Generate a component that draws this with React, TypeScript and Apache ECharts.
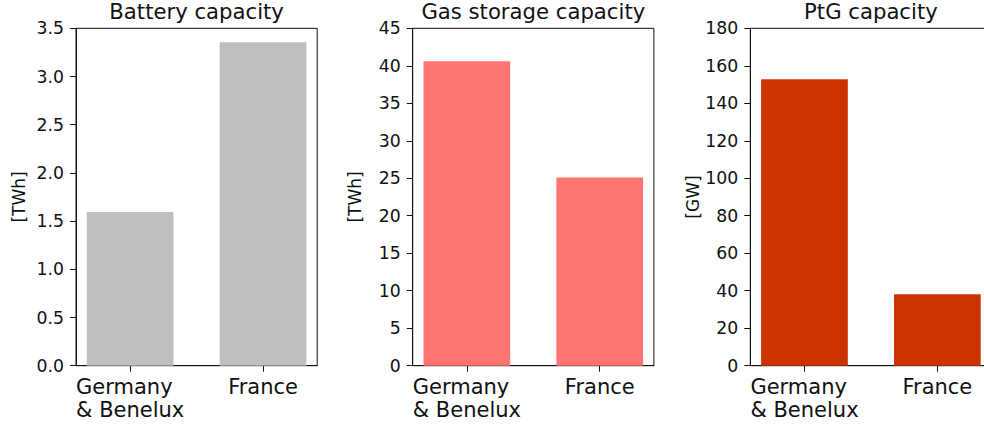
import React, { useEffect, useRef } from "react";
import * as echarts from "echarts";

const categories = ["Germany\n& Benelux", "France"];
const batteryValues = [1.594, 3.355];
const gasValues = [40.6, 25.1];
const ptgValues = [152.8, 38.1];
const panelTitles = ["Battery capacity", "Gas storage capacity", "PtG capacity"];
const yUnits = ["[TWh]", "[TWh]", "[GW]"];
const yMaxes = [3.5, 45, 180];
const yIntervals = [0.5, 5, 20];
const yDecimals = [1, 0, 0];
const barColors = ["#bfbfbf", "#ff7373", "#cc3300"];

const FONT = "DejaVu Sans";
const INK = "#111111";

export default function App() {
  const ref = useRef<HTMLDivElement>(null);
  useEffect(() => {
    if (!ref.current) return;
    const chart = echarts.init(ref.current, undefined, { renderer: "svg" });
    const lefts = [76, 412.7, 750.3];
    const width = 241.2;
    const top = 28.3;
    const height = 337.4;
    const allValues = [batteryValues, gasValues, ptgValues];

    const grids = lefts.map((l) => ({
      left: l,
      top,
      width,
      height,
      show: true,
      borderColor: INK,
      borderWidth: 1,
      containLabel: false,
    }));

    const xAxes = lefts.map((_, i) => ({
      type: "value",
      gridIndex: i,
      min: -0.4075,
      max: 1.4075,
      splitLine: { show: false },
      axisLine: { show: true, onZero: false, lineStyle: { color: INK, width: 1 } },
      axisTick: {
        show: true,
        customValues: [0, 1],
        length: 6,
        lineStyle: { color: INK, width: 1 },
      },
      axisLabel: {
        show: true,
        customValues: [0, 1],
        margin: 10,
        formatter: (v: number) => {
          const c = categories[Math.round(v)] || "";
          return c
            .split("\n")
            .map((s) => "{l|" + s + "}")
            .join("\n");
        },
        rich: {
          l: {
            align: "left",
            fontSize: 21,
            lineHeight: 23,
            fontFamily: FONT,
            color: INK,
          },
        },
      },
    }));

    const yAxes = lefts.map((_, i) => ({
      type: "value",
      gridIndex: i,
      min: 0,
      max: yMaxes[i],
      interval: yIntervals[i],
      splitLine: { show: false },
      axisLine: { show: true, onZero: false, lineStyle: { color: INK, width: 1 } },
      axisTick: { show: true, length: 6, lineStyle: { color: INK, width: 1 } },
      axisLabel: {
        margin: 12,
        fontSize: 17.3,
        fontFamily: FONT,
        color: INK,
        formatter: (v: number) => v.toFixed(yDecimals[i]),
      },
      name: yUnits[i],
      nameLocation: "middle",
      nameGap: 49,
      nameTextStyle: { fontSize: 17, fontFamily: FONT, color: INK },
    }));

    const series = allValues.map((vals, i) => ({
      type: "bar",
      xAxisIndex: i,
      yAxisIndex: i,
      barWidth: 86.7,
      itemStyle: { color: barColors[i] },
      data: vals.map((v, j) => [j, v]),
    }));

    const titles = lefts.map((l, i) => ({
      text: panelTitles[i],
      left: l + width / 2,
      top: 1,
      padding: 0,
      textAlign: "center",
      textStyle: {
        fontSize: 21.2,
        fontWeight: "normal",
        fontFamily: FONT,
        color: INK,
      },
    }));

    chart.setOption({
      animation: false,
      backgroundColor: "#ffffff",
      title: titles,
      grid: grids,
      xAxis: xAxes,
      yAxis: yAxes,
      series,
    } as any);
    return () => chart.dispose();
  }, []);
  return (
    <div
      ref={ref}
      style={{ position: "fixed", left: 0, top: 0, width: 1010, height: 427 }}
    />
  );
}
